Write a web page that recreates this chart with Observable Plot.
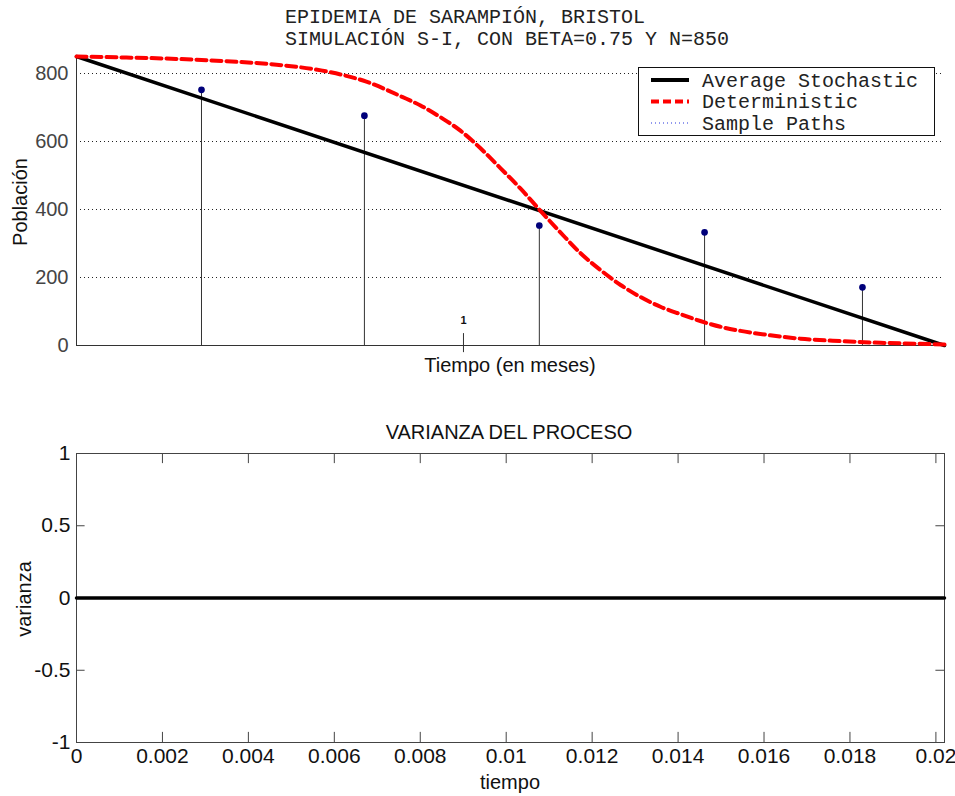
<!DOCTYPE html>
<html>
<head>
<meta charset="utf-8">
<script src="https://cdn.jsdelivr.net/npm/d3@7"></script>
<script src="https://cdn.jsdelivr.net/npm/@observablehq/plot@0.6"></script>
<style>
  html, body { margin: 0; padding: 0; background: #fff; }
  #wrap { position: relative; width: 955px; height: 796px; overflow: hidden; }
  #top, #bottom, #overlay { position: absolute; left: 0; }
  #top { top: 0; }
  #bottom { top: 400px; }
  #overlay { top: 0; pointer-events: none; }
</style>
</head>
<body>
<div id="wrap">
  <div id="top"></div>
  <div id="bottom"></div>
  <svg id="overlay" width="955" height="796"></svg>
</div>
<script>
// ---- Data ----
// Deterministic S-I curve (time in top-panel units, susceptible population)
const detT = [0, 0.129, 0.258, 0.388, 0.517, 0.646, 0.749, 0.840, 0.889, 0.941, 0.992, 1.044, 1.096, 1.147, 1.199, 1.251, 1.302, 1.354, 1.406, 1.457, 1.509, 1.561, 1.612, 1.664, 1.716, 1.793, 1.871, 1.974, 2.078, 2.181, 2.243];
const detS = [850, 847, 843, 836, 826, 806, 776, 732, 706, 671, 632, 580, 521, 462, 396, 332, 272, 222, 178, 143, 114, 92, 72, 55, 43, 30, 20, 13, 8, 5, 3];
// Average stochastic path
const avgT = [0, 2.243];
const avgS = [850, 0];
// Sample path stems
const stemT = [0.323, 0.744, 1.196, 1.623, 2.031];
const stemS = [752, 676, 353, 333, 171];
// Top panel ticks
const yTicksTop = [0, 200, 400, 600, 800];
const gridTop = [200, 400, 600, 800];
const xTickTop = [1];
// Variance of the process
const varT = [0, 0.0202];
const varV = [0, 0];
const xTicksBottom = [0, 0.002, 0.004, 0.006, 0.008, 0.01, 0.012, 0.014, 0.016, 0.018, 0.02];
const yTicksBottom = [-1, -0.5, 0, 0.5, 1];
const innerYTicks = [-0.5, 0.5];

const det = detT.map((t, i) => ({t, s: detS[i]}));
const avg = avgT.map((t, i) => ({t, s: avgS[i]}));
const stems = stemT.map((t, i) => ({t, s: stemS[i]}));
const vari = varT.map((t, i) => ({t, v: varV[i]}));

const sans = "'Liberation Sans', Arial, Helvetica, sans-serif";
const plainFmt = d => String(d);

// ---- Top panel ----
const topPlot = Plot.plot({
  width: 955,
  height: 390,
  marginTop: 56,
  marginBottom: 45,
  marginLeft: 76,
  marginRight: 11,
  style: {fontSize: "20px", fontFamily: sans, color: "#444", background: "white"},
  x: {domain: [0, 2.243]},
  y: {domain: [0, 850]},
  marks: [
    Plot.gridY(gridTop, {stroke: "#222", strokeOpacity: 1, strokeDasharray: "1,3"}),
    Plot.axisY(yTicksTop, {tickSize: 0, tickPadding: 8, tickFormat: plainFmt, label: null}),
    Plot.axisX([], {label: null}),
    Plot.ruleX(stems, {x: "t", y1: 0, y2: "s", stroke: "#333", strokeWidth: 1}),
    Plot.dot(stems, {x: "t", y: "s", r: 2.6, fill: "#00007a", stroke: "#00007a"}),
    Plot.ruleX([0], {y1: 0, y2: 850, stroke: "#333"}),
    Plot.ruleY([0], {stroke: "#333"}),
    Plot.ruleX(xTickTop, {y1: -21, y2: 35, stroke: "#333"}),
    Plot.text(xTickTop, {x: d => d, y: 74, text: d => String(d), fontSize: 11, fontWeight: "bold", fill: "#111"}),
    Plot.line(avg, {x: "t", y: "s", stroke: "black", strokeWidth: 3.5}),
    Plot.line(det, {x: "t", y: "s", curve: "monotone-x", stroke: "#ff0000", strokeWidth: 4, strokeDasharray: "10,5"})
  ]
});
document.getElementById("top").appendChild(topPlot);

// ---- Bottom panel ----
const botPlot = Plot.plot({
  width: 955,
  height: 396,
  marginTop: 53,
  marginBottom: 54,
  marginLeft: 76,
  marginRight: 11,
  style: {fontSize: "21px", fontFamily: sans, color: "#111", background: "white"},
  x: {domain: [0, 0.0202]},
  y: {domain: [-1, 1]},
  marks: [
    Plot.axisX(xTicksBottom, {tickSize: 0, tickPadding: 6, tickFormat: plainFmt, label: null}),
    Plot.axisY(yTicksBottom, {tickSize: 0, tickPadding: 6, tickFormat: plainFmt, label: null}),
    Plot.ruleX(xTicksBottom, {y1: -1, y2: -0.93, stroke: "#444"}),
    Plot.ruleX(xTicksBottom, {y1: 1, y2: 0.93, stroke: "#444"}),
    Plot.ruleY(innerYTicks, {x1: 0, x2: 0.0002, stroke: "#444"}),
    Plot.ruleY(innerYTicks, {x1: 0.0202, x2: 0.02, stroke: "#444"}),
    Plot.frame({stroke: "#444"}),
    Plot.line(vari, {x: "t", y: "v", stroke: "black", strokeWidth: 3.5})
  ]
});
document.getElementById("bottom").appendChild(botPlot);

// ---- Titles, axis labels, legend (text overlay) ----
const ov = d3.select("#overlay");
const mono = "'Liberation Mono', 'Courier New', monospace";
const titleLines = ["EPIDEMIA DE SARAMPIÓN, BRISTOL", "SIMULACIÓN S-I, CON BETA=0.75 Y N=850"];
titleLines.forEach((t, i) => {
  ov.append("text").attr("x", 285).attr("y", 23 + i * 22)
    .attr("font-family", mono).attr("font-size", 20).attr("fill", "#222").text(t);
});
function label(txt, x, y, rot) {
  const g = ov.append("text").attr("font-family", sans).attr("font-size", 20)
    .attr("fill", "#111").attr("text-anchor", "middle").text(txt);
  if (rot) g.attr("transform", `translate(${x},${y}) rotate(-90)`);
  else g.attr("x", x).attr("y", y);
}
label("Población", 27, 202, true);
label("Tiempo (en meses)", 510, 372, false);
label("VARIANZA DEL PROCESO", 509, 439, false);
label("varianza", 31, 599, true);
label("tiempo", 510, 789, false);

// legend
const legendItems = ["Average Stochastic", "Deterministic", "Sample Paths"];
const legendStyles = [
  {stroke: "black", width: 4, dash: null},
  {stroke: "#ff0000", width: 4, dash: "8,4"},
  {stroke: "#2233dd", width: 1, dash: "1,3"}
];
ov.append("rect").attr("x", 638.5).attr("y", 67.5).attr("width", 296).attr("height", 68)
  .attr("fill", "white").attr("stroke", "#111");
legendItems.forEach((t, i) => {
  const cy = 80 + i * 21.5;
  const st = legendStyles[i];
  const ln = ov.append("line").attr("x1", 651).attr("x2", 689).attr("y1", cy).attr("y2", cy)
    .attr("stroke", st.stroke).attr("stroke-width", st.width);
  if (st.dash) ln.attr("stroke-dasharray", st.dash);
  ov.append("text").attr("x", 702).attr("y", cy + 6.5)
    .attr("font-family", mono).attr("font-size", 20).attr("fill", "#222").text(t);
});
</script>
</body>
</html>
